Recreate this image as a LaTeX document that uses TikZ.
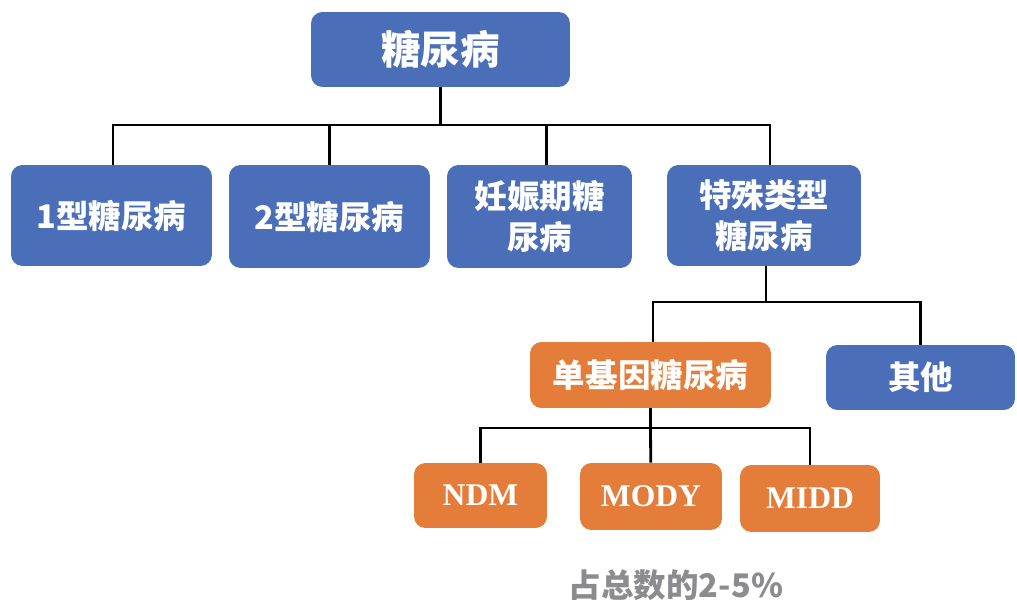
\documentclass[tikz,border=0pt]{standalone}
\usepackage{fontspec}
\setmainfont{Liberation Serif}
\newfontfamily\cjk{Noto Sans CJK SC}
\definecolor{boxblue}{HTML}{4A6FB8}
\definecolor{boxorange}{HTML}{E57D3A}
\definecolor{notegray}{HTML}{8C8C90}

\begin{document}
\begin{tikzpicture}[x=0.02cm,y=-0.02cm,
    bnode/.style={fill=boxblue,rounded corners=6.5pt,text=white,align=center,inner sep=0pt,
      font=\cjk\bfseries\fontsize{18.5}{23}\selectfont},
    onode/.style={fill=boxorange,rounded corners=6.5pt,text=white,align=center,inner sep=0pt,
      font=\cjk\bfseries\fontsize{18.5}{23}\selectfont},
    lnode/.style={onode,font=\rmfamily\bfseries\fontsize{18}{22}\selectfont},
    link/.style={line width=1.6pt}]
    \useasboundingbox (0,0) rectangle (1017,604);

    \node[bnode,minimum width=5.18cm,minimum height=1.5cm,font=\cjk\bfseries\fontsize{22.5}{27}\selectfont] (top) at (440.5,49.5) {糖尿病};
    \node[bnode,minimum width=4.02cm,minimum height=2.02cm] (t1) at (111.5,215.5) {1型糖尿病};
    \node[bnode,minimum width=4.02cm,minimum height=2.06cm] (t2) at (329.5,216.5) {2型糖尿病};
    \node[bnode,minimum width=3.7cm,minimum height=2.06cm] (t3) at (539.5,216.5) {妊娠期糖\\尿病};
    \node[bnode,minimum width=3.88cm,minimum height=2.02cm] (t4) at (764,215.5) {特殊类型\\糖尿病};

    \node[onode,minimum width=4.82cm,minimum height=1.32cm] (mono) at (650.5,375) {单基因糖尿病};
    \node[bnode,minimum width=3.78cm,minimum height=1.3cm] (other) at (920.5,377.5) {其他};

    \node[lnode,minimum width=2.66cm,minimum height=1.3cm] (ndm) at (480.5,495.5) {NDM};
    \node[lnode,minimum width=2.84cm,minimum height=1.34cm] (mody) at (651,496.5) {MODY};
    \node[lnode,minimum width=2.8cm,minimum height=1.34cm] (midd) at (810,498.5) {MIDD};

    \node[text=notegray,font=\cjk\bfseries\fontsize{18.5}{22}\selectfont] (note) at (676,585) {占总数的2-5\%};

    \coordinate (b1) at (440.5,125);
    \coordinate (b2) at (766,302);
    \coordinate (b3) at (650.5,428);

    \draw[link] (top) -- (b1);
    \draw[link] (b1) -| ([xshift=0.03cm]t1.north);
    \draw[link] (b1) -| (t2.north);
    \draw[link] (b1) -| ([xshift=0.14cm]t3.north);
    \draw[link] (b1) -| ([xshift=0.12cm]t4.north);

    \draw[link] (t4.south -| b2) -- (b2);
    \draw[link] (b2) -| ([xshift=0.05cm]mono.north);
    \draw[link] (b2) -| (other);

    \draw[link] (mono) -- (b3);
    \draw[link] (b3) -| (ndm);
    \draw[link] (b3) -- (mody);
    \draw[link] (b3) -| (midd);
\end{tikzpicture}
\end{document}
